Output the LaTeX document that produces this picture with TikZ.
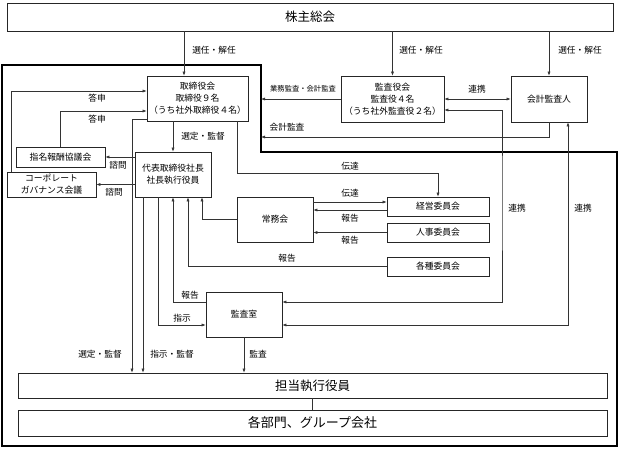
\documentclass[tikz,border=0pt]{standalone}
\usepackage{fontspec}
\setmainfont{Noto Sans CJK JP}
\usetikzlibrary{arrows.meta}
\begin{document}
\begin{tikzpicture}[x=1pt,y=-1pt,
  box/.style={draw=black!85, line width=0.6pt, inner sep=0pt, align=center, font=\fontsize{8.8}{12}\selectfont},
  arr/.style={draw=black!80, line width=0.5pt, -{Latex[length=4pt,width=3pt]}},
  dar/.style={draw=black!80, line width=0.5pt, {Latex[length=4pt,width=3pt]}-{Latex[length=4pt,width=3pt]}},
  ln/.style={draw=black!80, line width=0.5pt},
  lbl/.style={font=\fontsize{8.7}{9}\selectfont, inner sep=0pt},
  sml/.style={font=\fontsize{7.3}{8}\selectfont, inner sep=0pt},
  frm/.style={line width=1.4pt}]
\useasboundingbox (0,0) rectangle (620,449);
\fill[white] (0,0) rectangle (620,449);

% nodes
\node[box, minimum width=606pt, minimum height=28pt, font=\fontsize{12.5}{14}\selectfont] (sh) at (310,17) {株主総会};
\node[box, minimum width=101pt, minimum height=45pt] (tb) at (197.5,98.5) {取締役会\\取締役９名\\（うち社外取締役４名）};
\node[box, minimum width=103pt, minimum height=46pt] (kk) at (392.5,99) {監査役会\\監査役４名\\（うち社外監査役２名）};
\node[box, minimum width=76pt, minimum height=46pt] (ka) at (549,99) {会計監査人};
\node[box, minimum width=76pt, minimum height=45pt] (dh) at (173,174.5) {代表取締役社長\\社長執行役員};
\node[box, minimum width=89pt, minimum height=20pt] (sm) at (60.5,157) {指名報酬協議会};
\node[box, minimum width=89pt, minimum height=25pt] (cg) at (51.5,184.5) {コーポレート\\ガバナンス会議};
\node[box, minimum width=76pt, minimum height=45pt] (jm) at (275,219.5) {常務会};
\node[box, minimum width=102pt, minimum height=19pt] (ke) at (438,206.5) {経営委員会};
\node[box, minimum width=102pt, minimum height=19pt] (jj) at (438,232.5) {人事委員会};
\node[box, minimum width=102pt, minimum height=19pt] (ks) at (438,266.5) {各種委員会};
\node[box, minimum width=76pt, minimum height=45pt] (ksa) at (244,314.5) {監査室};
\node[box, minimum width=589pt, minimum height=25pt, font=\fontsize{12.5}{14}\selectfont] (tt) at (312.5,385.5) {担当執行役員};
\node[box, minimum width=589pt, minimum height=26pt, font=\fontsize{13}{14}\selectfont] (bm) at (312.5,423) {各部門、グループ会社};

% helper coordinates
\coordinate (X184) at (184,0);
\coordinate (X132) at (132,0);
\coordinate (X143) at (143,0);
\coordinate (FR) at (261,0);
\coordinate (KA) at (261,137);
\coordinate (L1) at (502,200);

% thick frame
\draw[frm] (2,65) -- (261,65) -- (261,152) -- (617,152) -- (617,446) -- (2,446) -- cycle;

% connectors
\draw[arr] (sh.south -| X184) -- (tb.north -| X184);
\draw[arr] (sh.south -| kk.north) -- (kk.north);
\draw[arr] (sh.south -| ka.north) -- (ka.north);
\node[lbl] at (214,50) {選任・解任};
\node[lbl] at (421,50) {選任・解任};
\node[lbl] at (580,50) {選任・解任};

\draw[dar] (kk.east) -- (ka.west);
\node[lbl] at (477,89) {連携};
\draw[arr] (kk.west) -- (kk.west -| FR);
\node[sml] at (303,89) {業務監査・会計監査};
\draw[arr] (ka.south) |- (KA);
\node[lbl] at (287,127) {会計監査};

\draw[dar] ([yshift=-11pt]kk.east) -| (L1) |- ([yshift=12.5pt]ksa.east);
\node[lbl] at (517,208) {連携};
\draw[dar] ([xshift=19pt]ka.south) |- ([yshift=-10.5pt]ksa.east);
\node[lbl] at (583,208) {連携};

\draw[arr] (tb.south -| dh.north) -- (dh.north);
\node[lbl] at (203,136) {選定・監督};
\draw[arr] ([xshift=40pt]tb.south) -- ++(0,52) -| (ke.north);
\node[lbl] at (350,166) {伝達};
\draw[arr] ([yshift=17.5pt]jm.east) -- ([yshift=4.5pt]ke.west);
\node[lbl] at (350,193) {伝達};
\draw[arr] ([yshift=-3.5pt]ke.west) -- ([yshift=9.5pt]jm.east);
\node[lbl] at (350,218) {報告};
\draw[arr] (jj.west) -- ([yshift=-13pt]jm.east);
\node[lbl] at (350,240) {報告};
\draw[arr] (ks.west) -| ([xshift=15pt]dh.south);
\node[lbl] at (287,258) {報告};
\draw[arr] (jm.west) -| ([xshift=29pt]dh.south);
\draw[arr] ([yshift=12.5pt]ksa.west) -| (dh.south);
\node[lbl] at (190,295) {報告};
\draw[arr] ([xshift=-15pt]dh.south) |- ([yshift=-10.5pt]ksa.west);
\node[lbl] at (182,318) {指示};
\draw[arr] (dh.south -| X143) -- (tt.north -| X143);
\node[lbl] at (172,354) {指示・監督};
\draw[arr] ([yshift=-20.5pt]tb.west) -| (tt.north -| X132);
\node[lbl] at (100,354) {選定・監督};
\draw[arr] (ksa.south) -- (tt.north -| ksa.south);
\node[lbl] at (258,354) {監査};
\draw[ln] (tt.south) -- (bm.north);

\draw[arr] ([yshift=17.5pt]dh.west) -- (sm.east);
\node[lbl] at (118,165) {諮問};
\draw[arr] ([yshift=-10pt]dh.west) -- (cg.east);
\node[lbl] at (114,192) {諮問};
\draw[arr] ([xshift=-40.5pt]cg.north) |- ([yshift=7.5pt]tb.west);
\node[lbl] at (97,98) {答申};
\draw[arr] (sm.north) |- ([yshift=-12.5pt]tb.west);
\node[lbl] at (97,119) {答申};
\end{tikzpicture}
\end{document}
